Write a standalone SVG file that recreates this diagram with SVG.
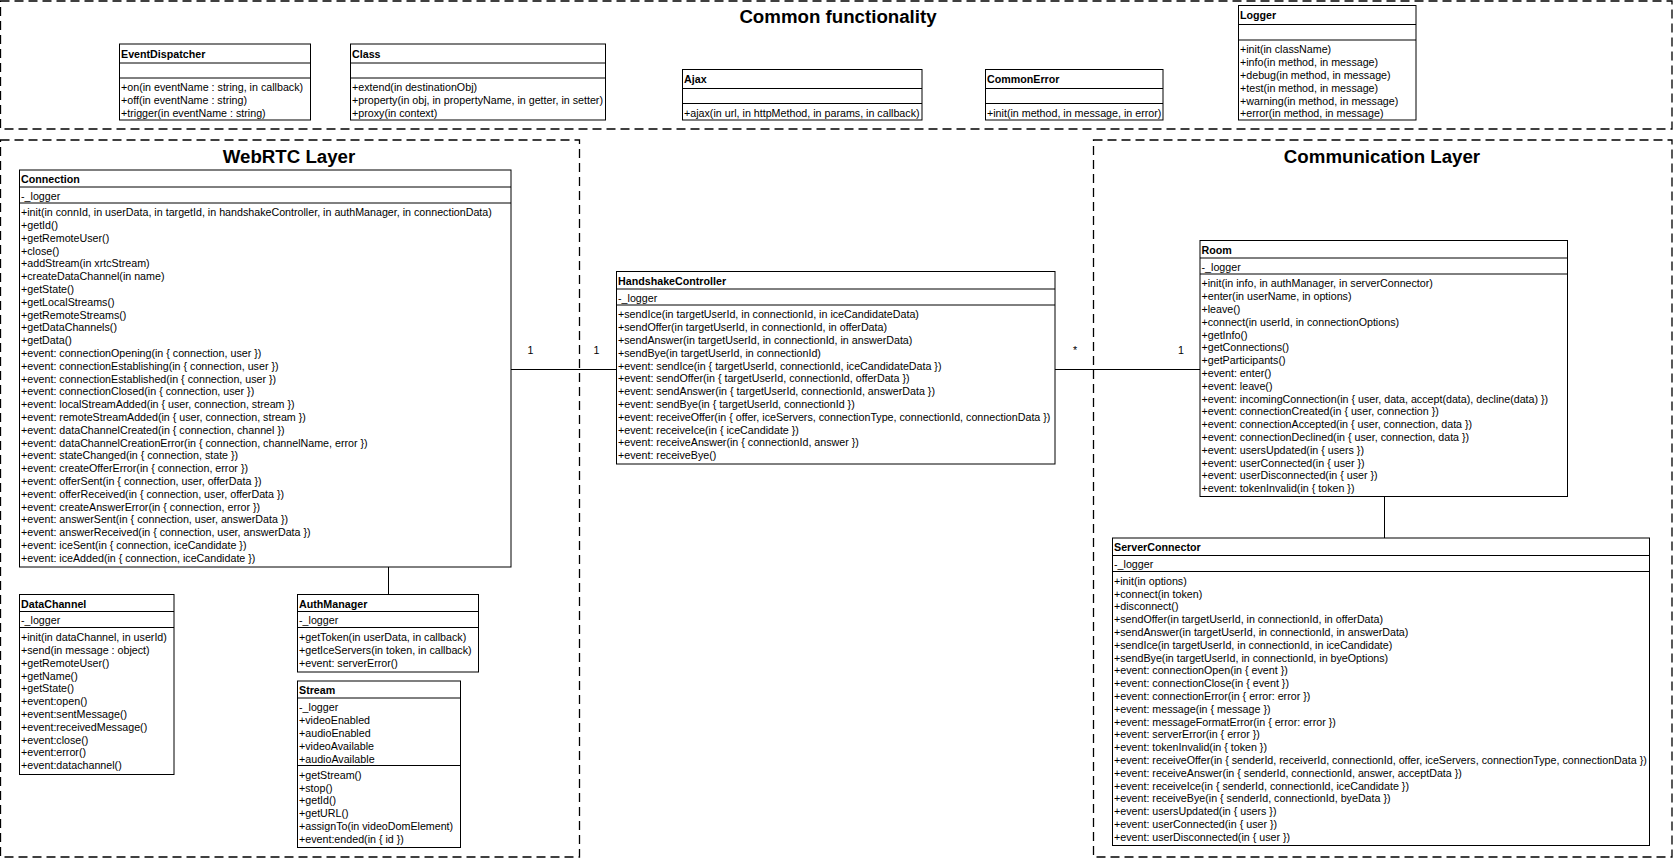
<svg xmlns="http://www.w3.org/2000/svg" width="1673" height="860" viewBox="0 0 1673 860">
  <style>
    .frame { fill: none; stroke: #000; stroke-width: 1.3; stroke-dasharray: 9 5; }
    .box { fill: #fff; stroke: #000; stroke-width: 1; }
    .sep { stroke: #000; stroke-width: 1; }
    .edge { fill: none; stroke: #000; stroke-width: 1; }
    text { font-family: "Liberation Sans", Arial, sans-serif; font-size: 10.7px; fill: #000; }
    .name { font-weight: bold; }
    .title { font-size: 18.7px; font-weight: bold; text-anchor: middle; }
    .mult { text-anchor: middle; }
  </style>

  <rect width="1673" height="860" fill="#fff"/>

  <!-- package frames -->
  <g id="pkg-common">
    <rect class="frame" x="0.5" y="1" width="1671.5" height="128"/>
    <text class="title" x="838" y="22.5">Common functionality</text>
  </g>
  <g id="pkg-webrtc">
    <rect class="frame" x="0.5" y="140" width="579" height="717"/>
    <text class="title" x="289" y="162.5">WebRTC Layer</text>
  </g>
  <g id="pkg-communication">
    <rect class="frame" x="1093.5" y="140" width="578.5" height="717"/>
    <text class="title" x="1382" y="162.5">Communication Layer</text>
  </g>

  <!-- associations -->
  <g id="connectors">
    <line class="edge" x1="511" y1="369.5" x2="616.5" y2="369.5"/>
    <line class="edge" x1="1055" y1="369.5" x2="1200" y2="369.5"/>
    <line class="edge" x1="1384.5" y1="496.5" x2="1384.5" y2="538"/>
    <line class="edge" x1="388.5" y1="567" x2="388.5" y2="594.5"/>
    <text class="mult" x="530.5" y="353.5">1</text>
    <text class="mult" x="596.5" y="353.5">1</text>
    <text class="mult" x="1075" y="353.5">*</text>
    <text class="mult" x="1181" y="353.5">1</text>
  </g>

  <!-- Common functionality -->
  <g id="EventDispatcher">
    <rect class="box" x="119.5" y="44" width="191" height="76"/>
    <line class="sep" x1="119.5" y1="63" x2="310.5" y2="63"/>
    <line class="sep" x1="119.5" y1="78" x2="310.5" y2="78"/>
    <text class="name" x="121" y="57.5">EventDispatcher</text>
    <text x="121" y="78.5"><tspan x="121" dy="12.8">+on(in eventName : string, in callback)</tspan><tspan x="121" dy="12.8">+off(in eventName : string)</tspan><tspan x="121" dy="12.8">+trigger(in eventName : string)</tspan></text>
  </g>

  <g id="Class">
    <rect class="box" x="350.5" y="44" width="255" height="76"/>
    <line class="sep" x1="350.5" y1="63" x2="605.5" y2="63"/>
    <line class="sep" x1="350.5" y1="78" x2="605.5" y2="78"/>
    <text class="name" x="352" y="57.5">Class</text>
    <text x="352" y="78.5"><tspan x="352" dy="12.8">+extend(in destinationObj)</tspan><tspan x="352" dy="12.8">+property(in obj, in propertyName, in getter, in setter)</tspan><tspan x="352" dy="12.8">+proxy(in context)</tspan></text>
  </g>

  <g id="Ajax">
    <rect class="box" x="682.5" y="69.5" width="239.5" height="50.5"/>
    <line class="sep" x1="682.5" y1="88.5" x2="922" y2="88.5"/>
    <line class="sep" x1="682.5" y1="103.5" x2="922" y2="103.5"/>
    <text class="name" x="684" y="83">Ajax</text>
    <text x="684" y="116.5">+ajax(in url, in httpMethod, in params, in callback)</text>
  </g>

  <g id="CommonError">
    <rect class="box" x="985.5" y="69.5" width="177.5" height="50.5"/>
    <line class="sep" x1="985.5" y1="88.5" x2="1163" y2="88.5"/>
    <line class="sep" x1="985.5" y1="103.5" x2="1163" y2="103.5"/>
    <text class="name" x="987" y="83">CommonError</text>
    <text x="987" y="116.5">+init(in method, in message, in error)</text>
  </g>

  <g id="Logger">
    <rect class="box" x="1238.5" y="5.5" width="177.5" height="114.5"/>
    <line class="sep" x1="1238.5" y1="24.5" x2="1416" y2="24.5"/>
    <line class="sep" x1="1238.5" y1="40" x2="1416" y2="40"/>
    <text class="name" x="1240" y="19">Logger</text>
    <text x="1240" y="40.5"><tspan x="1240" dy="12.8">+init(in className)</tspan><tspan x="1240" dy="12.8">+info(in method, in message)</tspan><tspan x="1240" dy="12.8">+debug(in method, in message)</tspan><tspan x="1240" dy="12.8">+test(in method, in message)</tspan><tspan x="1240" dy="12.8">+warning(in method, in message)</tspan><tspan x="1240" dy="12.8">+error(in method, in message)</tspan></text>
  </g>

  <!-- WebRTC layer -->
  <g id="Connection">
    <rect class="box" x="19.5" y="170" width="491.5" height="397"/>
    <line class="sep" x1="19.5" y1="187" x2="511" y2="187"/>
    <line class="sep" x1="19.5" y1="203" x2="511" y2="203"/>
    <text class="name" x="21" y="183">Connection</text>
    <text x="21" y="199.5">-_logger</text>
    <text x="21" y="203.3"><tspan x="21" dy="12.8">+init(in connId, in userData, in targetId, in handshakeController, in authManager, in connectionData)</tspan><tspan x="21" dy="12.8">+getId()</tspan><tspan x="21" dy="12.8">+getRemoteUser()</tspan><tspan x="21" dy="12.8">+close()</tspan><tspan x="21" dy="12.8">+addStream(in xrtcStream)</tspan><tspan x="21" dy="12.8">+createDataChannel(in name)</tspan><tspan x="21" dy="12.8">+getState()</tspan><tspan x="21" dy="12.8">+getLocalStreams()</tspan><tspan x="21" dy="12.8">+getRemoteStreams()</tspan><tspan x="21" dy="12.8">+getDataChannels()</tspan><tspan x="21" dy="12.8">+getData()</tspan><tspan x="21" dy="12.8">+event: connectionOpening(in { connection, user })</tspan><tspan x="21" dy="12.8">+event: connectionEstablishing(in { connection, user })</tspan><tspan x="21" dy="12.8">+event: connectionEstablished(in { connection, user })</tspan><tspan x="21" dy="12.8">+event: connectionClosed(in { connection, user })</tspan><tspan x="21" dy="12.8">+event: localStreamAdded(in { user, connection, stream })</tspan><tspan x="21" dy="12.8">+event: remoteStreamAdded(in { user, connection, stream })</tspan><tspan x="21" dy="12.8">+event: dataChannelCreated(in { connection, channel })</tspan><tspan x="21" dy="12.8">+event: dataChannelCreationError(in { connection, channelName, error })</tspan><tspan x="21" dy="12.8">+event: stateChanged(in { connection, state })</tspan><tspan x="21" dy="12.8">+event: createOfferError(in { connection, error })</tspan><tspan x="21" dy="12.8">+event: offerSent(in { connection, user, offerData })</tspan><tspan x="21" dy="12.8">+event: offerReceived(in { connection, user, offerData })</tspan><tspan x="21" dy="12.8">+event: createAnswerError(in { connection, error })</tspan><tspan x="21" dy="12.8">+event: answerSent(in { connection, user, answerData })</tspan><tspan x="21" dy="12.8">+event: answerReceived(in { connection, user, answerData })</tspan><tspan x="21" dy="12.8">+event: iceSent(in { connection, iceCandidate })</tspan><tspan x="21" dy="12.8">+event: iceAdded(in { connection, iceCandidate })</tspan></text>
  </g>

  <g id="DataChannel">
    <rect class="box" x="19.5" y="594.5" width="154.5" height="180"/>
    <line class="sep" x1="19.5" y1="611.5" x2="174" y2="611.5"/>
    <line class="sep" x1="19.5" y1="627.5" x2="174" y2="627.5"/>
    <text class="name" x="21" y="607.5">DataChannel</text>
    <text x="21" y="624.3">-_logger</text>
    <text x="21" y="628.3"><tspan x="21" dy="12.8">+init(in dataChannel, in userId)</tspan><tspan x="21" dy="12.8">+send(in message : object)</tspan><tspan x="21" dy="12.8">+getRemoteUser()</tspan><tspan x="21" dy="12.8">+getName()</tspan><tspan x="21" dy="12.8">+getState()</tspan><tspan x="21" dy="12.8">+event:open()</tspan><tspan x="21" dy="12.8">+event:sentMessage()</tspan><tspan x="21" dy="12.8">+event:receivedMessage()</tspan><tspan x="21" dy="12.8">+event:close()</tspan><tspan x="21" dy="12.8">+event:error()</tspan><tspan x="21" dy="12.8">+event:datachannel()</tspan></text>
  </g>

  <g id="AuthManager">
    <rect class="box" x="297.5" y="594.5" width="181" height="77.5"/>
    <line class="sep" x1="297.5" y1="611.5" x2="478.5" y2="611.5"/>
    <line class="sep" x1="297.5" y1="627.5" x2="478.5" y2="627.5"/>
    <text class="name" x="299" y="607.5">AuthManager</text>
    <text x="299" y="624.3">-_logger</text>
    <text x="299" y="628.3"><tspan x="299" dy="12.8">+getToken(in userData, in callback)</tspan><tspan x="299" dy="12.8">+getIceServers(in token, in callback)</tspan><tspan x="299" dy="12.8">+event: serverError()</tspan></text>
  </g>

  <g id="Stream">
    <rect class="box" x="297.5" y="681" width="163" height="166.5"/>
    <line class="sep" x1="297.5" y1="698" x2="460.5" y2="698"/>
    <line class="sep" x1="297.5" y1="765.5" x2="460.5" y2="765.5"/>
    <text class="name" x="299" y="694">Stream</text>
    <text x="299" y="698.5"><tspan x="299" dy="12.8">-_logger</tspan><tspan x="299" dy="12.8">+videoEnabled</tspan><tspan x="299" dy="12.8">+audioEnabled</tspan><tspan x="299" dy="12.8">+videoAvailable</tspan><tspan x="299" dy="12.8">+audioAvailable</tspan></text>
    <text x="299" y="766"><tspan x="299" dy="12.8">+getStream()</tspan><tspan x="299" dy="12.8">+stop()</tspan><tspan x="299" dy="12.8">+getId()</tspan><tspan x="299" dy="12.8">+getURL()</tspan><tspan x="299" dy="12.8">+assignTo(in videoDomElement)</tspan><tspan x="299" dy="12.8">+event:ended(in { id })</tspan></text>
  </g>

  <g id="HandshakeController">
    <rect class="box" x="616.5" y="271.5" width="438.5" height="192.5"/>
    <line class="sep" x1="616.5" y1="289" x2="1055" y2="289"/>
    <line class="sep" x1="616.5" y1="305" x2="1055" y2="305"/>
    <text class="name" x="618" y="284.5">HandshakeController</text>
    <text x="618" y="301.5">-_logger</text>
    <text x="618" y="305.5"><tspan x="618" dy="12.8">+sendIce(in targetUserId, in connectionId, in iceCandidateData)</tspan><tspan x="618" dy="12.8">+sendOffer(in targetUserId, in connectionId, in offerData)</tspan><tspan x="618" dy="12.8">+sendAnswer(in targetUserId, in connectionId, in answerData)</tspan><tspan x="618" dy="12.8">+sendBye(in targetUserId, in connectionId)</tspan><tspan x="618" dy="12.8">+event: sendIce(in { targetUserId, connectionId, iceCandidateData })</tspan><tspan x="618" dy="12.8">+event: sendOffer(in { targetUserId, connectionId, offerData })</tspan><tspan x="618" dy="12.8">+event: sendAnswer(in { targetUserId, connectionId, answerData })</tspan><tspan x="618" dy="12.8">+event: sendBye(in { targetUserId, connectionId })</tspan><tspan x="618" dy="12.8">+event: receiveOffer(in { offer, iceServers, connectionType, connectionId, connectionData })</tspan><tspan x="618" dy="12.8">+event: receiveIce(in { iceCandidate })</tspan><tspan x="618" dy="12.8">+event: receiveAnswer(in { connectionId, answer })</tspan><tspan x="618" dy="12.8">+event: receiveBye()</tspan></text>
  </g>

  <!-- Communication layer -->
  <g id="Room">
    <rect class="box" x="1200" y="240.5" width="367.5" height="256"/>
    <line class="sep" x1="1200" y1="258" x2="1567.5" y2="258"/>
    <line class="sep" x1="1200" y1="274" x2="1567.5" y2="274"/>
    <text class="name" x="1201.5" y="253.5">Room</text>
    <text x="1201.5" y="270.5">-_logger</text>
    <text x="1201.5" y="274.5"><tspan x="1201.5" dy="12.8">+init(in info, in authManager, in serverConnector)</tspan><tspan x="1201.5" dy="12.8">+enter(in userName, in options)</tspan><tspan x="1201.5" dy="12.8">+leave()</tspan><tspan x="1201.5" dy="12.8">+connect(in userId, in connectionOptions)</tspan><tspan x="1201.5" dy="12.8">+getInfo()</tspan><tspan x="1201.5" dy="12.8">+getConnections()</tspan><tspan x="1201.5" dy="12.8">+getParticipants()</tspan><tspan x="1201.5" dy="12.8">+event: enter()</tspan><tspan x="1201.5" dy="12.8">+event: leave()</tspan><tspan x="1201.5" dy="12.8">+event: incomingConnection(in { user, data, accept(data), decline(data) })</tspan><tspan x="1201.5" dy="12.8">+event: connectionCreated(in { user, connection })</tspan><tspan x="1201.5" dy="12.8">+event: connectionAccepted(in { user, connection, data })</tspan><tspan x="1201.5" dy="12.8">+event: connectionDeclined(in { user, connection, data })</tspan><tspan x="1201.5" dy="12.8">+event: usersUpdated(in { users })</tspan><tspan x="1201.5" dy="12.8">+event: userConnected(in { user })</tspan><tspan x="1201.5" dy="12.8">+event: userDisconnected(in { user })</tspan><tspan x="1201.5" dy="12.8">+event: tokenInvalid(in { token })</tspan></text>
  </g>

  <g id="ServerConnector">
    <rect class="box" x="1112.5" y="538" width="537" height="307.5"/>
    <line class="sep" x1="1112.5" y1="555.5" x2="1649.5" y2="555.5"/>
    <line class="sep" x1="1112.5" y1="571.5" x2="1649.5" y2="571.5"/>
    <text class="name" x="1114" y="551">ServerConnector</text>
    <text x="1114" y="568">-_logger</text>
    <text x="1114" y="572"><tspan x="1114" dy="12.8">+init(in options)</tspan><tspan x="1114" dy="12.8">+connect(in token)</tspan><tspan x="1114" dy="12.8">+disconnect()</tspan><tspan x="1114" dy="12.8">+sendOffer(in targetUserId, in connectionId, in offerData)</tspan><tspan x="1114" dy="12.8">+sendAnswer(in targetUserId, in connectionId, in answerData)</tspan><tspan x="1114" dy="12.8">+sendIce(in targetUserId, in connectionId, in iceCandidate)</tspan><tspan x="1114" dy="12.8">+sendBye(in targetUserId, in connectionId, in byeOptions)</tspan><tspan x="1114" dy="12.8">+event: connectionOpen(in { event })</tspan><tspan x="1114" dy="12.8">+event: connectionClose(in { event })</tspan><tspan x="1114" dy="12.8">+event: connectionError(in { error: error })</tspan><tspan x="1114" dy="12.8">+event: message(in { message })</tspan><tspan x="1114" dy="12.8">+event: messageFormatError(in { error: error })</tspan><tspan x="1114" dy="12.8">+event: serverError(in { error })</tspan><tspan x="1114" dy="12.8">+event: tokenInvalid(in { token })</tspan><tspan x="1114" dy="12.8">+event: receiveOffer(in { senderId, receiverId, connectionId, offer, iceServers, connectionType, connectionData })</tspan><tspan x="1114" dy="12.8">+event: receiveAnswer(in { senderId, connectionId, answer, acceptData })</tspan><tspan x="1114" dy="12.8">+event: receiveIce(in { senderId, connectionId, iceCandidate })</tspan><tspan x="1114" dy="12.8">+event: receiveBye(in { senderId, connectionId, byeData })</tspan><tspan x="1114" dy="12.8">+event: usersUpdated(in { users })</tspan><tspan x="1114" dy="12.8">+event: userConnected(in { user })</tspan><tspan x="1114" dy="12.8">+event: userDisconnected(in { user })</tspan></text>
  </g>
</svg>
